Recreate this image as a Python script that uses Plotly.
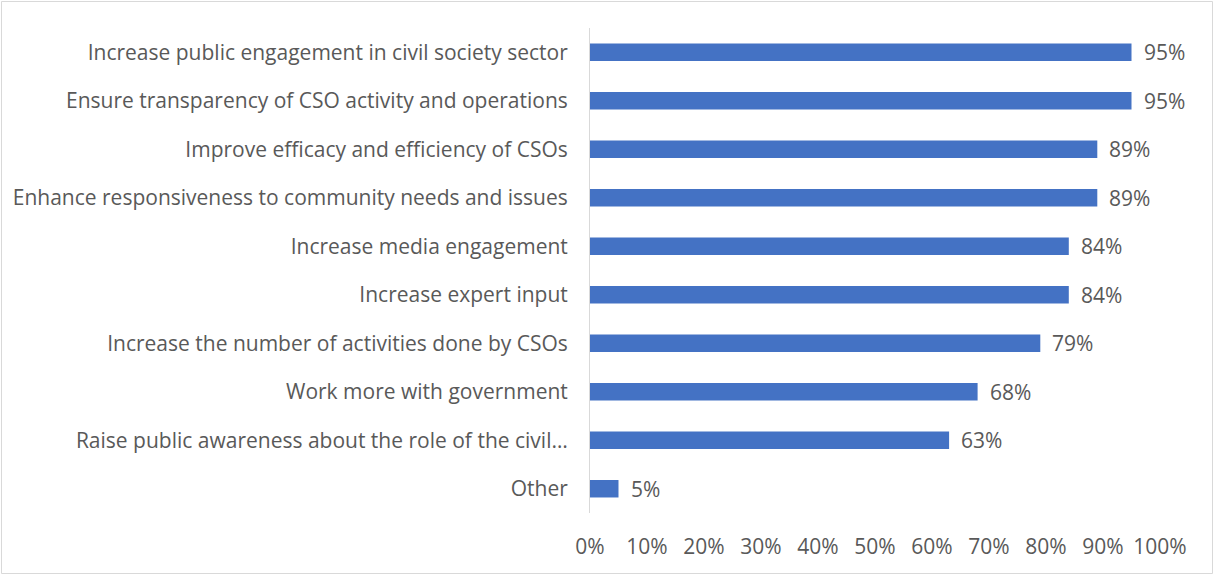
import plotly.graph_objects as go

categories = [
    "Increase public engagement in civil society sector",
    "Ensure transparency of CSO activity and operations",
    "Improve efficacy and efficiency of CSOs",
    "Enhance responsiveness to community needs and issues",
    "Increase media engagement",
    "Increase expert input",
    "Increase the number of activities done by CSOs",
    "Work more with government",
    "Raise public awareness about the role of the civil…",
    "Other",
]
values = [0.95, 0.95, 0.89, 0.89, 0.84, 0.84, 0.79, 0.68, 0.63, 0.05]
tick_vals = [0, 0.1, 0.2, 0.3, 0.4, 0.5, 0.6, 0.7, 0.8, 0.9, 1.0]
tick_text = ["0%", "10%", "20%", "30%", "40%", "50%", "60%", "70%", "80%", "90%", "100%"]

FONT = "Open Sans"
FS = 21
GREY = "#595959"
W, H = 1214, 575
L, R, T, B = 590, 54, 28, 62

fig = go.Figure()
fig.add_trace(go.Bar(
    x=values, y=categories, orientation="h",
    marker=dict(color="#4472C4", line=dict(width=0)),
    width=0.36,
))
for c, v in zip(categories, values):
    fig.add_annotation(x=v, y=c, text=f"{round(v*100)}%", showarrow=False,
                       xanchor="left", xshift=10,
                       font=dict(family=FONT, size=FS, color=GREY))

pw, ph = W - L - R, H - T - B
fig.add_shape(type="rect", xref="paper", yref="paper",
              x0=(-L + 1.5) / pw, x1=(pw + R - 1.5) / pw,
              y0=(-B + 1.5) / ph, y1=(ph + T - 1.5) / ph,
              line=dict(color="#D9D9D9", width=1), layer="below")

fig.update_layout(
    width=W, height=H,
    margin=dict(l=L, r=R, t=T, b=B),
    paper_bgcolor="white", plot_bgcolor="white",
    showlegend=False,
    font=dict(family=FONT, size=FS, color=GREY),
    xaxis=dict(range=[0, 1.0], tickvals=tick_vals, ticktext=tick_text,
               showgrid=False, zeroline=False, showline=False,
               ticklabelstandoff=19, fixedrange=True),
    yaxis=dict(autorange="reversed", showgrid=False, zeroline=False,
               showline=True, linecolor="#D9D9D9", linewidth=1,
               ticklabelstandoff=17),
    bargap=0.64,
)
fig.write_html("out.html", config={"displayModeBar": False},
               post_script="document.body.style.margin='0';")
